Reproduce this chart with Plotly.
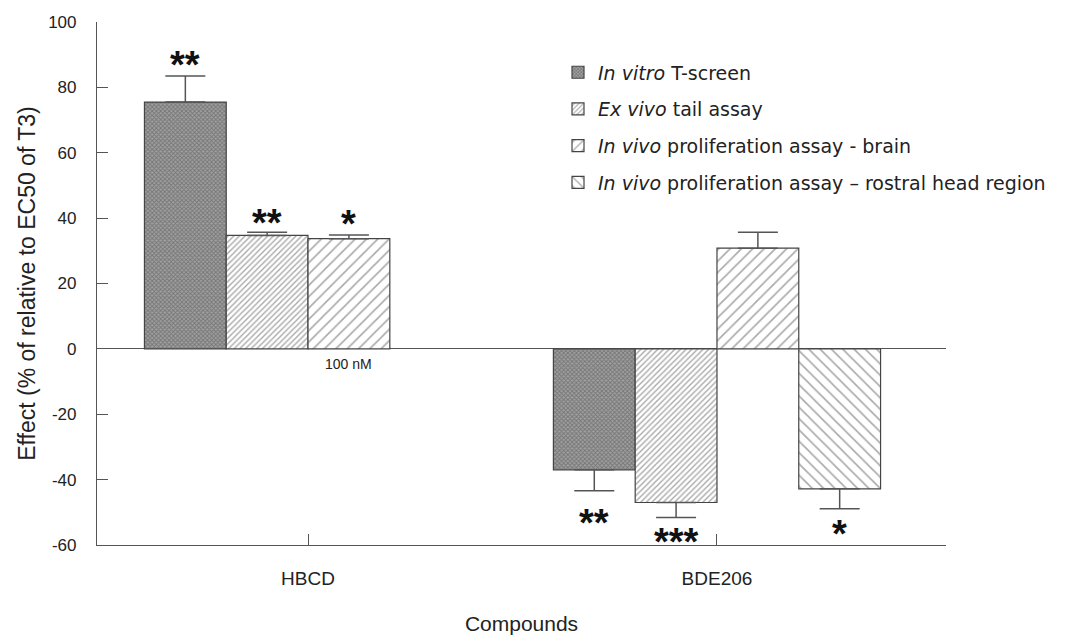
import plotly.graph_objects as go

categories = ["HBCD", "BDE206"]
series_names = [
    "<i>In vitro</i> T-screen",
    "<i>Ex vivo</i> tail assay",
    "<i>In vivo</i> proliferation assay - brain",
    "<i>In vivo</i> proliferation assay \u2013 rostral head region",
]
values = [
    [75.5, -37.0],
    [34.7, -47.0],
    [33.7, 30.8],
    [None, -42.8],
]
errors = [
    [8.0, 6.4],
    [1.0, 4.6],
    [1.1, 4.9],
    [None, 6.1],
]
stars = [
    ["**", "**"],
    ["**", "***"],
    ["*", ""],
    ["", "*"],
]
star_y = [
    [89.6, -50.6],
    [41.4, -56.3],
    [41.1, None],
    [None, -53.8],
]
y_ticks = [-60, -40, -20, 0, 20, 40, 60, 80, 100]
y_tick_text = ["-60", "-40", "-20", "0", "20", "40", "60", "80", "100"]

patterns = [
    dict(shape="x", size=3, solidity=0.5, fgcolor="#4a4a4a", bgcolor="#a0a0a0"),
    dict(shape="/", size=4, solidity=0.35, fgcolor="#555555", bgcolor="white"),
    dict(shape="/", size=8, solidity=0.2, fgcolor="#555555", bgcolor="white"),
    dict(shape="\\", size=8, solidity=0.2, fgcolor="#555555", bgcolor="white"),
]

fig = go.Figure()
for i, name in enumerate(series_names):
    plus = []
    minus = []
    for v, e in zip(values[i], errors[i]):
        if v is None:
            plus.append(None); minus.append(None)
        elif v >= 0:
            plus.append(e); minus.append(0)
        else:
            plus.append(0); minus.append(e)
    fig.add_trace(go.Bar(
        x=categories, y=values[i], name=name,
        legendgroup=f"g{i}",
        marker=dict(color="white", pattern=patterns[i],
                    line=dict(color="#444444", width=1.2)),
        error_y=dict(type="data", symmetric=False, array=plus, arrayminus=minus,
                     color="#555555", thickness=1.5, width=20),
    ))

offsets = [-0.3, -0.1, 0.1, 0.3]
annotations = []
for i in range(4):
    for c in range(2):
        if stars[i][c]:
            annotations.append(dict(
                x=c + offsets[i], y=star_y[i][c], xref="x", yref="y",
                text="<b>" + stars[i][c] + "</b>", showarrow=False,
                font=dict(family="Liberation Sans", size=38, color="#111111"),
                yshift=-9,
            ))
annotations.append(dict(x=0 + offsets[2], y=-4.6, xref="x", yref="y", text="100 nM",
                        showarrow=False, font=dict(family="Liberation Sans", size=14, color="#222")))

fig.update_layout(
    width=1075, height=643,
    margin=dict(l=97, r=129, t=22, b=98),
    paper_bgcolor="white", plot_bgcolor="white",
    barmode="group", bargap=0.2, bargroupgap=0,
    showlegend=True,
    legend=dict(x=0.543, y=0.94, xanchor="left", yanchor="top",
                font=dict(family="DejaVu Sans", size=19, color="#222222"),
                tracegroupgap=9, bgcolor="rgba(0,0,0,0)", borderwidth=0),
    annotations=annotations,
    xaxis=dict(range=[-0.516, 1.56], showline=True, linecolor="#555555", linewidth=1.2,
               ticks="inside", ticklen=11, tickcolor="#555555", showgrid=False,
               tickfont=dict(family="Liberation Sans", size=19, color="#222222"),
               ticklabelstandoff=16,
               title=dict(text="Compounds", font=dict(family="Liberation Sans", size=21, color="#222222"),
                          standoff=28)),
    yaxis=dict(range=[-60, 100], tickvals=y_ticks, ticktext=y_tick_text,
               showline=True, linecolor="#555555", linewidth=1.2,
               ticks="inside", ticklen=11, tickcolor="#555555", showgrid=False,
               zeroline=True, zerolinecolor="#555555", zerolinewidth=1.2,
               tickfont=dict(family="Liberation Sans", size=17, color="#222222"),
               ticklabelstandoff=16,
               title=dict(text="Effect (% of relative to EC50 of T3)",
                          font=dict(family="Liberation Sans", size=23, color="#222222"), standoff=6)),
)

fig.write_html("out.html")
